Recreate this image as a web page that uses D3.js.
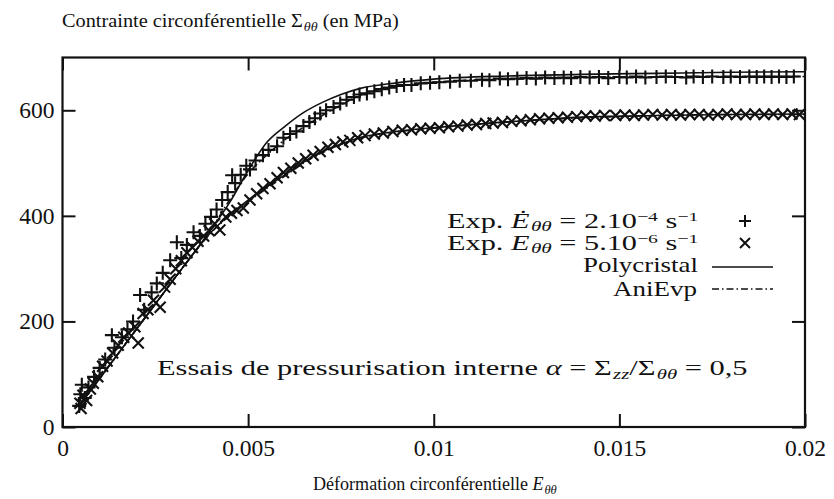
<!DOCTYPE html>
<html>
<head>
<meta charset="utf-8">
<script src="https://cdn.jsdelivr.net/npm/d3@7"></script>
<style>
  html, body { margin: 0; padding: 0; background: #fff; }
  svg { display: block; }
  text { font-family: "Liberation Serif", "DejaVu Serif", serif; fill: #111; }
</style>
</head>
<body>
<svg id="chart" width="834" height="499"></svg>
<script>
// Axis ticks
const xTicks = [0, 0.005, 0.01, 0.015, 0.02];
const xTickLabels = ["0", "0.005", "0.01", "0.015", "0.02"];
const yTicks = [0, 200, 400, 600];
const yTickLabels = ["0", "200", "400", "600"];

// Experimental points, fast rate (2.10^-4 s^-1): strain, stress (MPa)
const fastStrain = [0.00045,0.00048,0.00052,0.00060,0.00070,0.00085,0.00100,0.00115,0.00133,0.00140,
  0.00160,0.00175,0.00190,0.00209,0.00220,0.00240,0.00254,0.00270,0.00290,0.00308,
  0.00320,0.00335,0.00353,0.00370,0.00385,0.00400,0.00415,0.00430,0.00445,0.00457,
  0.00465,0.00480,0.00495,0.00505,0.00520,0.00540,0.00555,0.00578,0.00595,0.00613,
  0.00630,0.00649,0.00665,0.00680,0.00694,0.00710,0.00730,0.00748,0.00765,0.00785,
  0.00800,0.00820,0.00840,0.00860,0.00880,0.00900,0.00920,0.00940,0.00965,0.00990,
  0.01015,0.01044,0.01070,0.01100,0.01130,0.01150,0.01178,0.01200,0.01225,0.01250,
  0.01275,0.01300,0.01325,0.01350,0.01370,0.01395,0.01420,0.01445,0.01470,0.01500,
  0.01520,0.01545,0.01570,0.01600,0.01625,0.01650,0.01680,0.01700,0.01725,0.01750,
  0.01780,0.01800,0.01825,0.01850,0.01870,0.01890,0.01910,0.01930,0.01950,0.01970];
const fastStress = [40,62,80,55,75,95,112,128,174,150,
  170,185,200,250,222,255,272,292,316,350,
  320,345,369,362,385,398,412,430,445,477,
  462,478,495,488,505,515,525,532,548,555,
  560,570,578,585,594,600,606,613,620,625,
  630,632,636,640,643,646,648,648,651,652,
  653,654,656,656,658,657,660,659,660,661,
  660,662,661,662,661,663,662,663,661,663,
  662,664,662,663,664,663,662,664,663,664,
  663,664,663,664,663,664,663,664,663,664];

// Experimental points, slow rate (5.10^-6 s^-1)
const slowStrain = [0.00047,0.00050,0.00055,0.00065,0.00075,0.00083,0.00095,0.00108,0.00120,0.00135,
  0.00150,0.00165,0.00178,0.00195,0.00204,0.00217,0.00230,0.00245,0.00263,0.00275,
  0.00290,0.00305,0.00320,0.00335,0.00350,0.00365,0.00380,0.00395,0.00410,0.00424,
  0.00440,0.00455,0.00470,0.00487,0.00505,0.00523,0.00540,0.00559,0.00578,0.00595,
  0.00615,0.00635,0.00655,0.00675,0.00694,0.00715,0.00735,0.00755,0.00774,0.00795,
  0.00815,0.00840,0.00864,0.00890,0.00915,0.00940,0.00965,0.00990,0.01015,0.01040,
  0.01065,0.01090,0.01115,0.01140,0.01160,0.01185,0.01210,0.01235,0.01260,0.01285,
  0.01310,0.01335,0.01360,0.01385,0.01410,0.01435,0.01460,0.01490,0.01515,0.01540,
  0.01565,0.01590,0.01615,0.01640,0.01665,0.01690,0.01715,0.01740,0.01765,0.01790,
  0.01815,0.01840,0.01865,0.01890,0.01915,0.01940,0.01965,0.01985];
const slowStress = [45,35,60,50,72,83,95,115,125,140,
  155,170,178,190,159,215,222,240,227,265,
  280,300,315,330,340,352,362,372,385,373,
  398,405,410,415,430,442,452,461,472,482,
  490,500,508,515,522,530,535,540,543,548,
  552,555,557,560,562,563,565,566,567,569,
  570,572,573,575,576,577,579,580,582,584,
  585,586,587,588,589,589,590,590,591,590,
  591,592,591,592,591,592,592,591,592,593,
  592,592,593,592,593,592,593,592];

// Polycristal model, both rates
const polyFastStrain = [0.0005,0.001,0.002,0.003,0.004,0.0045,0.005,0.0055,0.006,0.0065,0.007,0.0075,0.008,0.009,0.010,0.012,0.014,0.016,0.018,0.020];
const polyFastStress = [45,92,186,280,374,425,486,539,570,596,615,630,641,652,659,665,668,670,672,673];
const polySlowStrain = [0.0005,0.001,0.002,0.003,0.0035,0.004,0.0045,0.005,0.0055,0.006,0.0065,0.007,0.0075,0.008,0.009,0.010,0.012,0.014,0.016,0.018,0.020];
const polySlowStress = [45,92,186,280,326,369,402,430,455,478,502,522,536,548,560,567,578,587,590,592,593];

// AniEvp model, both rates
const aniFastStrain = [0.0005,0.001,0.002,0.003,0.004,0.0045,0.005,0.0055,0.006,0.0065,0.007,0.0075,0.008,0.009,0.010,0.012,0.014,0.016,0.018,0.020];
const aniFastStress = [45,92,186,280,374,430,480,515,545,568,590,610,628,645,653,659,662,663,664,664];
const aniSlowStrain = [0.0005,0.001,0.002,0.003,0.0035,0.004,0.0045,0.005,0.0055,0.006,0.0065,0.007,0.0075,0.008,0.009,0.010,0.012,0.014,0.016,0.018,0.020];
const aniSlowStress = [45,92,186,280,326,368,400,427,452,476,500,520,535,547,559,566,578,586,590,592,592];

const svg = d3.select("#chart");
const X0 = 62.5, X1 = 805, Y0 = 427, Y1 = 57.5;
const x = d3.scaleLinear().domain([0, 0.02]).range([X0, X1]);
const y = d3.scaleLinear().domain([0, 700]).range([Y0, Y1]);

const ink = "#111";
const tickLen = 13;
const dashDot = "7,3,1.5,3";

// Model curves
const line = d3.line().x(d => x(d[0])).y(d => y(d[1])).curve(d3.curveMonotoneX);
const zip = (a, b) => a.map((v, i) => [v, b[i]]);
const curves = [
  {pts: zip(aniFastStrain, aniFastStress), dash: dashDot},
  {pts: zip(aniSlowStrain, aniSlowStress), dash: dashDot},
  {pts: zip(polyFastStrain, polyFastStress), dash: null},
  {pts: zip(polySlowStrain, polySlowStress), dash: null}
];
svg.append("g").selectAll("path").data(curves).join("path")
  .attr("d", d => line(d.pts))
  .attr("fill", "none").attr("stroke", ink).attr("stroke-width", 1.6)
  .attr("stroke-dasharray", d => d.dash);

// Markers
const plusPath = s => `M${-s},0H${s}M0,${-s}V${s}`;
const crossPath = s => `M${-s},${-s}L${s},${s}M${-s},${s}L${s},${-s}`;
svg.append("g").selectAll("path").data(zip(fastStrain, fastStress)).join("path")
  .attr("transform", d => `translate(${x(d[0])},${y(d[1])})`)
  .attr("d", plusPath(7)).attr("stroke", ink).attr("stroke-width", 2.1).attr("fill", "none");
svg.append("g").selectAll("path").data(zip(slowStrain, slowStress)).join("path")
  .attr("transform", d => `translate(${x(d[0])},${y(d[1])})`)
  .attr("d", crossPath(5.5)).attr("stroke", ink).attr("stroke-width", 2.1).attr("fill", "none");

// Axes: ticks on all four sides, pointing inward
const fmtX = (d, i) => xTickLabels[i];
const fmtY = (d, i) => yTickLabels[i];
const gBottom = svg.append("g").attr("transform", `translate(0,${Y0})`)
  .call(d3.axisBottom(x).tickValues(xTicks).tickFormat(fmtX).tickSizeInner(-tickLen).tickSizeOuter(0).tickPadding(12));
const gTop = svg.append("g").attr("transform", `translate(0,${Y1})`)
  .call(d3.axisTop(x).tickValues(xTicks).tickFormat("").tickSizeInner(-tickLen).tickSizeOuter(0));
const gLeft = svg.append("g").attr("transform", `translate(${X0},0)`)
  .call(d3.axisLeft(y).tickValues(yTicks).tickFormat(fmtY).tickSizeInner(-tickLen).tickSizeOuter(0).tickPadding(8));
const gRight = svg.append("g").attr("transform", `translate(${X1},0)`)
  .call(d3.axisRight(y).tickValues(yTicks).tickFormat("").tickSizeInner(-tickLen).tickSizeOuter(0));
[gBottom, gTop, gLeft, gRight].forEach(g => {
  g.select(".domain").remove();
  g.selectAll(".tick line").attr("stroke", ink).attr("stroke-width", 2);
  g.selectAll(".tick text").attr("font-family", "Liberation Serif, serif").attr("font-size", 23.5).attr("fill", ink);
});

// Frame
svg.append("rect").attr("x", X0).attr("y", Y1)
  .attr("width", X1 - X0).attr("height", Y0 - Y1)
  .attr("fill", "none").attr("stroke", ink).attr("stroke-width", 2.2);

// Text set in a wide book face: built at the origin, then scaled
// horizontally so that the run spans the given width.
function wideText(xPos, yPos, size, width, build) {
  const g = svg.append("g");
  const t = g.append("text").attr("x", 0).attr("y", 0).attr("font-size", size);
  build(t);
  const natural = t.node().getComputedTextLength();
  g.attr("transform", `translate(${xPos},${yPos}) scale(${width / natural},1)`);
  return t;
}
const sub = (t, s, size, d = 4) => t.append("tspan").attr("font-style", "italic").attr("font-size", size).attr("dx", 1).attr("dy", d).text(s);
const sup = (t, s, size, d = 8) => t.append("tspan").attr("font-size", size).attr("dy", -d).text(s);

// Titles
wideText(62, 27, 19.5, 336, t => {
  t.append("tspan").text("Contrainte circonférentielle Σ");
  sub(t, "θθ", 13.5);
  t.append("tspan").attr("dy", -4).text(" (en MPa)");
});
wideText(313, 490, 19.5, 243, t => {
  t.append("tspan").text("Déformation circonférentielle ");
  t.append("tspan").attr("font-style", "italic").text("E");
  sub(t, "θθ", 13.5);
});

// Legend
const symX = 745;
function rateLabel(yPos, dotted, mant, exp) {
  wideText(447, yPos, 20, 250, t => {
    t.append("tspan").text("Exp. ");
    t.append("tspan").attr("font-style", "italic").text(dotted ? "Ė" : "E");
    sub(t, "θθ", 14, 3);
    t.append("tspan").attr("dy", -3).text(" = " + mant + "10");
    sup(t, "−" + exp, 13, 7);
    t.append("tspan").attr("dy", 7).text("  s");
    sup(t, "−1", 13, 7);
  });
}
rateLabel(228, true, "2.", "4");
rateLabel(250, false, "5.", "6");
svg.append("path").attr("transform", `translate(${symX},221)`).attr("d", plusPath(6))
  .attr("stroke", ink).attr("stroke-width", 2);
svg.append("path").attr("transform", `translate(${symX},243)`).attr("d", crossPath(5))
  .attr("stroke", ink).attr("stroke-width", 2);
wideText(583, 272, 20.5, 115, t => t.text("Polycristal"));
wideText(613, 296, 20.5, 84, t => t.text("AniEvp"));
svg.append("line").attr("x1", 712).attr("x2", 773).attr("y1", 267).attr("y2", 267)
  .attr("stroke", ink).attr("stroke-width", 1.6);
svg.append("line").attr("x1", 712).attr("x2", 773).attr("y1", 289).attr("y2", 289)
  .attr("stroke", ink).attr("stroke-width", 1.6).attr("stroke-dasharray", dashDot);

// Test conditions note
wideText(157, 375, 22, 588, t => {
  t.append("tspan").text("Essais de pressurisation interne ");
  t.append("tspan").attr("font-style", "italic").text("α");
  t.append("tspan").text(" = Σ");
  sub(t, "zz", 15);
  t.append("tspan").attr("dy", -4).text("/Σ");
  sub(t, "θθ", 15);
  t.append("tspan").attr("dy", -4).text(" = 0,5");
});
</script>
</body>
</html>
